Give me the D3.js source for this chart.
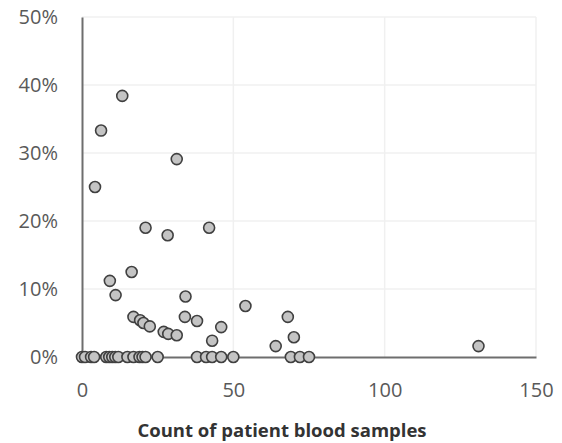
<!DOCTYPE html>
<html>
<head>
<meta charset="utf-8">
<script src="https://cdn.jsdelivr.net/npm/d3@7"></script>
<style>
  body { margin: 0; background: #fff; }
  text { font-family: "Open Sans", "Noto Sans", sans-serif; }
</style>
</head>
<body>
<svg id="chart"></svg>
<script>
// points with a non-zero share
const sampleCounts = [13.3, 6.3, 31.3, 4.3, 21, 28.3, 42, 16.4, 9.2, 11.1, 34.2, 54, 17, 19.2, 20.3, 22.4, 34, 38, 46, 27, 28.5, 31.3, 43, 64, 68, 70, 131];
const shareValues = [0.384, 0.333, 0.291, 0.250, 0.190, 0.179, 0.190, 0.125, 0.112, 0.091, 0.089, 0.075, 0.059, 0.054, 0.050, 0.045, 0.059, 0.053, 0.044, 0.037, 0.034, 0.032, 0.024, 0.016, 0.059, 0.029, 0.016];
// points sitting on 0%
const zeroCounts = [0, 1, 3, 4, 8, 9, 10, 11, 12, 15, 17, 19, 20, 21, 25, 38, 41, 43, 46, 50, 69, 72, 75];

const xTicks = [0, 50, 100, 150];
const yTicks = [0, 0.1, 0.2, 0.3, 0.4, 0.5];

const width = 562, height = 443;
const margin = { top: 17, right: 26, bottom: 86, left: 82 };

const svg = d3.select("#chart")
    .attr("width", width)
    .attr("height", height);

const x = d3.scaleLinear().domain([0, 150]).range([margin.left, width - margin.right]);
const y = d3.scaleLinear().domain([0, 0.5]).range([height - margin.bottom, margin.top]);

const points = sampleCounts.map((c, i) => ({ x: c, y: shareValues[i] }))
    .concat(zeroCounts.map(c => ({ x: c, y: 0 })));

// gridlines
svg.append("g")
    .selectAll("line.h")
    .data(yTicks.slice(1))
    .join("line")
    .attr("x1", x(0)).attr("x2", x(150))
    .attr("y1", d => y(d)).attr("y2", d => y(d))
    .attr("stroke", "#f0f0f0").attr("stroke-width", 1.5);

svg.append("g")
    .selectAll("line.v")
    .data(xTicks.slice(1))
    .join("line")
    .attr("x1", d => x(d)).attr("x2", d => x(d))
    .attr("y1", y(0)).attr("y2", y(0.5))
    .attr("stroke", "#f0f0f0").attr("stroke-width", 1.5);

// axes
const xAxis = svg.append("g")
    .attr("transform", "translate(0," + y(0) + ")")
    .call(d3.axisBottom(x).tickValues(xTicks).tickSize(0).tickPadding(26));
xAxis.select(".domain").attr("stroke", "#6e6e6e").attr("stroke-width", 2);
xAxis.selectAll("text").attr("font-size", "20px").attr("fill", "#595959");

const yAxis = svg.append("g")
    .attr("transform", "translate(" + x(0) + ",0)")
    .call(d3.axisLeft(y).tickValues(yTicks).tickFormat(d3.format(".0%")).tickSize(0).tickPadding(24));
yAxis.select(".domain").attr("stroke", "#6e6e6e").attr("stroke-width", 2);
yAxis.selectAll("text").attr("font-size", "20px").attr("fill", "#595959");

// markers
svg.append("g")
    .selectAll("circle")
    .data(points)
    .join("circle")
    .attr("cx", d => x(d.x))
    .attr("cy", d => y(d.y))
    .attr("r", 5.5)
    .attr("fill", "#c4c4c4")
    .attr("stroke", "#404040")
    .attr("stroke-width", 1.6);

// axis title
svg.append("text")
    .attr("x", 282)
    .attr("y", 437)
    .attr("text-anchor", "middle")
    .attr("font-size", "18.5px")
    .attr("font-weight", "bold")
    .attr("fill", "#333")
    .text("Count of patient blood samples");
</script>
</body>
</html>
